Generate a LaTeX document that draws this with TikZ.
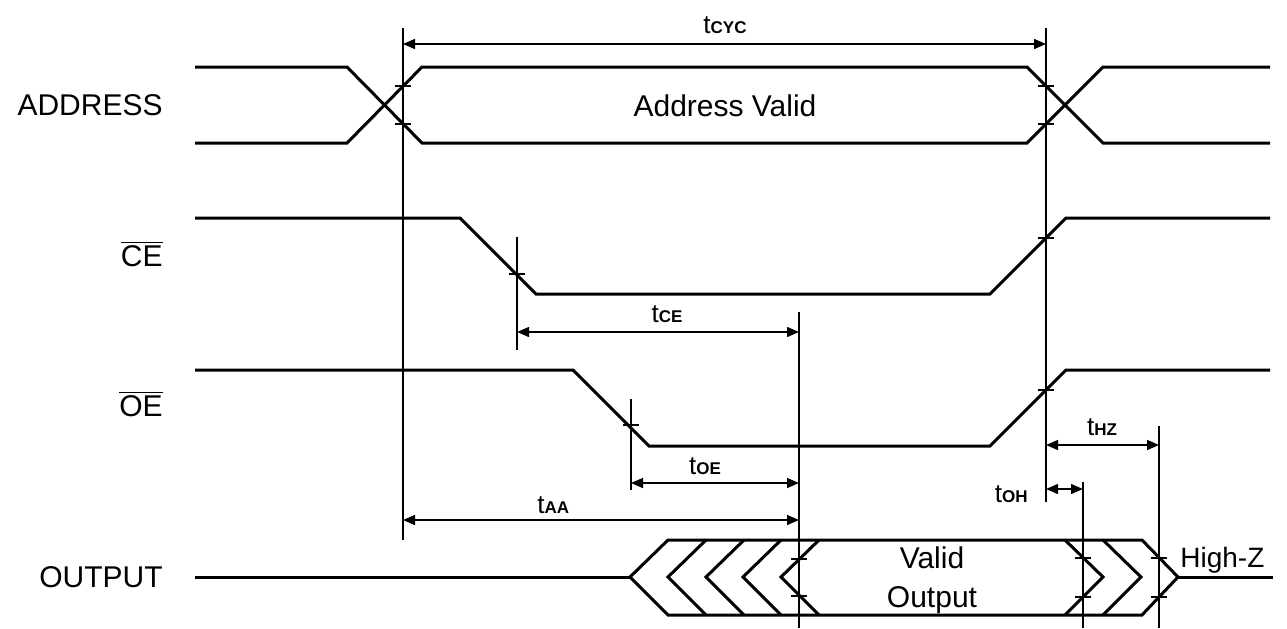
\documentclass[tikz,border=0pt]{standalone}
\usepackage{fontspec}
\setmainfont{Liberation Sans}
\usetikzlibrary{arrows.meta}
\tikzset{
  sig/.style={line width=1.5pt},
  guide/.style={line width=0.9pt},
  tickmark/.style={line width=0.8pt},
  dim/.style={{Triangle[length=6pt,width=5pt]}-{Triangle[length=6pt,width=5pt]}, line width=0.7pt},
  lbl/.style={anchor=base east, inner sep=0pt, font=\fontsize{15}{18}\selectfont},
  txt/.style={anchor=base, inner sep=0pt, font=\fontsize{15}{18}\selectfont},
  tlbl/.style={anchor=base, inner sep=0pt, font=\fontsize{13}{15}\selectfont}
}
\newcommand{\tsub}[1]{t{\fontsize{8.5}{9}\selectfont\bfseries #1}}
\begin{document}
\begin{tikzpicture}[x=0.5pt,y=-0.5pt]
\useasboundingbox (0,0) rectangle (1287,628);
% signal names
\node[lbl] (address) at (163,115) {ADDRESS};
\node[lbl] (ce) at (163,266) {$\overline{\mbox{CE}}$};
\node[lbl] (oe) at (163,416) {$\overline{\mbox{OE}}$};
\node[lbl] (output) at (163,587) {OUTPUT};
% waveforms
\draw[sig] (195,67) -- (347,67) -- (422,143) -- (1027,143) -- (1103,67) -- (1270,67);
\draw[sig] (195,143) -- (347,143) -- (422,67) -- (1027,67) -- (1103,143) -- (1270,143);
\node[txt] (addrvalid) at (725,116) {Address Valid};
\draw[sig] (195,218) -- (460,218) -- (536,294) -- (990,294) -- (1066,218) -- (1270,218);
\draw[sig] (195,370) -- (573,370) -- (649,446) -- (990,446) -- (1066,370) -- (1270,370);
\draw[sig] (195,577) -- (630,577);
\draw[sig] (630,577) -- (668,540) -- (1142,540) -- (1178,577) -- (1142,615) -- (668,615) -- cycle;
\foreach \x in {668,706,743,781}
  \draw[sig] (\x+38,540) -- (\x,577) -- (\x+38,615);
\foreach \x in {1065,1103}
  \draw[sig] (\x,540) -- (\x+38,577) -- (\x,615);
\draw[sig] (1178,577) -- (1273,577);
\node[txt] (valid) at (932,568) {Valid};
\node[txt] (outp) at (932,607) {Output};
\node[anchor=base west, inner sep=0pt, font=\fontsize{14}{16}\selectfont] (highz) at (1180,567) {High-Z};
% reference lines
\coordinate (gaddr) at (403,28);
\coordinate (gend) at (1046,28);
\coordinate (gce) at (517,237);
\coordinate (gout) at (799,312);
\coordinate (goe) at (631,399);
\coordinate (goh) at (1083,482);
\coordinate (ghz) at (1159,426);
\draw[guide] (gaddr) -- ++(0,512) (gend) -- ++(0,474) (gce) -- ++(0,113) (gout) -- ++(0,316)
  (goe) -- ++(0,91) (goh) -- ++(0,146) (ghz) -- ++(0,202);
\foreach \p in {{403,86},{403,124},{1046,86},{1046,124},{517,274},{1046,238},{631,425},{1046,390},
  {799,559},{799,596},{1083,558},{1083,597},{1159,558},{1159,597}}
  \draw[tickmark] (\p) ++(-8,0) -- ++(16,0);
% timing parameters
\draw[dim] (gaddr |- 0,44) -- (gend |- 0,44);
\node[tlbl] (tcyc) at (725,33) {\tsub{CYC}};
\draw[dim] (gce |- 0,332) -- (gout |- 0,332);
\node[tlbl] (tce) at (667,322) {\tsub{CE}};
\draw[dim] (goe |- 0,483) -- (gout |- 0,483);
\node[tlbl] (toe) at (705,474) {\tsub{OE}};
\draw[dim] (gaddr |- 0,520) -- (gout |- 0,520);
\node[tlbl, anchor=base west] (taa) at (537,513) {\tsub{AA}};
\draw[dim] (gend |- 0,445) -- (ghz |- 0,445);
\node[tlbl] (thz) at (1102,435) {\tsub{HZ}};
\draw[dim] (gend |- 0,489) -- (goh |- 0,489);
\node[tlbl, anchor=base east] (toh) at (1028,502) {\tsub{OH}};
\end{tikzpicture}
\end{document}
